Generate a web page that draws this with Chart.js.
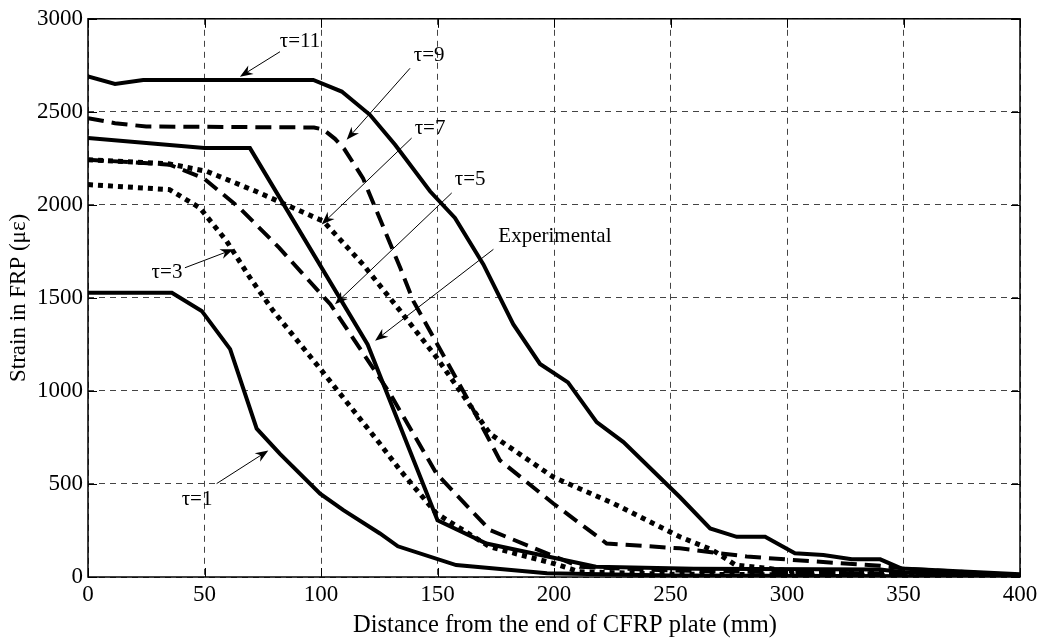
<!DOCTYPE html>
<html>
<head>
<meta charset="utf-8">
<script src="https://cdn.jsdelivr.net/npm/chart.js@4"></script>
<style>
  html, body { margin: 0; padding: 0; background: #fff; }
</style>
</head>
<body>
<canvas id="strainChart" width="1046" height="641"></canvas>
<script>
// data: distance (mm) / strain (micro-strain)
const tau11X = [0, 11.6, 23.7, 96.7, 108.9, 121, 131.8, 146.8, 157.5, 169.7, 182.5, 194, 206, 218.3, 229.8, 254, 267, 278.4, 290.6, 303.4, 315.6, 327.8, 340, 349, 400];
const tau11Y = [2690, 2650, 2671, 2671, 2609, 2484, 2323, 2073, 1930, 1680, 1359, 1145, 1046, 832, 725, 430, 261, 216, 216, 127, 118, 95, 95, 46, 15];

const tau9X = [0, 11.6, 25, 97, 101, 106, 110, 118, 134, 139.6, 162.5, 176.8, 199.7, 222.6, 254, 282.7, 310, 340, 350, 400];
const tau9Y = [2466, 2439, 2421, 2416, 2405, 2355, 2300, 2144, 1662, 1484, 966, 627, 395, 180, 154, 110, 85, 60, 45, 10];

const expX = [0, 50, 69.5, 120, 150, 171, 218, 260, 340, 350, 400];
const expY = [2360, 2305, 2305, 1250, 305, 180, 55, 45, 40, 25, 10];

const tau7X = [0, 35, 49.5, 65, 82, 104, 125, 129.6, 149.6, 172.5, 211, 250, 300, 400];
const tau7Y = [2243, 2216, 2144, 1984, 1770, 1466, 1073, 986, 555, 252, 55, 35, 25, 10];

const tau5X = [0, 35, 51, 72, 101, 118, 134, 149.6, 172.5, 199.7, 225.5, 254, 268, 278, 300, 350, 400];
const tau5Y = [2243, 2220, 2180, 2073, 1912, 1680, 1430, 1180, 770, 537, 395, 216, 145, 64, 35, 20, 8];

const tau3X = [0, 35, 48, 59.5, 69.5, 79.5, 99.6, 125.3, 134, 149.6, 172.5, 199.7, 211, 250, 400];
const tau3Y = [2109, 2082, 1984, 1805, 1609, 1430, 1120, 716, 573, 341, 162, 73, 28, 15, 5];

const tau1X = [0, 36, 48.8, 61, 72.4, 82.4, 99.6, 109.6, 125.3, 133, 158, 197, 250, 400];
const tau1Y = [1528, 1528, 1430, 1225, 797, 662, 448, 359, 234, 165, 64, 20, 8, 3];

const xTicks = [0, 50, 100, 150, 200, 250, 300, 350, 400];
const yTicks = [0, 500, 1000, 1500, 2000, 2500, 3000];

const xTitle = 'Distance from the end of CFRP plate (mm)';
const yTitle = 'Strain in FRP (με)';

// labels with arrows: text centre, arrow start, arrow tip (in data units)
const notes = [
    { text: 'τ=11', at: [91, 2877], from: [82.4, 2823], to: [65.2, 2689] },
    { text: 'τ=9', at: [146.4, 2802], from: [138.2, 2734], to: [111, 2350] },
    { text: 'τ=7', at: [146.8, 2411], from: [138.9, 2359], to: [100.3, 1895] },
    { text: 'τ=5', at: [164, 2137], from: [156.1, 2064], to: [106, 1466] },
    { text: 'Experimental', at: [200.4, 1832], from: [174, 1761], to: [123.2, 1270] },
    { text: 'τ=3', at: [33.9, 1639], from: [41.6, 1662], to: [62.4, 1761] },
    { text: 'τ=1', at: [46.8, 418], from: [55.2, 502], to: [77.4, 680] }
];

const SERIF = "'Liberation Serif', 'Times New Roman', serif";
const SOLID = [];
const DASHED = [16, 8];
const DOTTED = [5, 5];

function toPoints(xs, ys) {
    return xs.map((x, i) => ({ x: x, y: ys[i] }));
}

function series(label, xs, ys, dash) {
    return {
        label: label,
        data: toPoints(xs, ys),
        borderColor: '#000',
        borderWidth: dash === DOTTED ? 5 : 4,
        borderDash: dash,
        borderCapStyle: 'butt',
        borderJoinStyle: 'miter',
        pointRadius: 0,
        tension: 0,
        fill: false
    };
}

// box, inward ticks, x title and the arrow labels
const frameAndNotes = {
    id: 'frameAndNotes',
    afterDraw(chart) {
        const { ctx, chartArea: a, scales: { x, y } } = chart;
        ctx.save();
        ctx.strokeStyle = '#000';
        ctx.lineWidth = 1;
        ctx.setLineDash([]);
        ctx.beginPath();
        xTicks.forEach(v => {
            const px = Math.round(x.getPixelForValue(v)) + 0.5;
            ctx.moveTo(px, a.bottom); ctx.lineTo(px, a.bottom - 9);
            ctx.moveTo(px, a.top); ctx.lineTo(px, a.top + 9);
        });
        yTicks.forEach(v => {
            const py = Math.round(y.getPixelForValue(v)) + 0.5;
            ctx.moveTo(a.left, py); ctx.lineTo(a.left + 9, py);
            ctx.moveTo(a.right, py); ctx.lineTo(a.right - 9, py);
        });
        ctx.stroke();
        ctx.lineWidth = 1.5;
        ctx.strokeRect(a.left, a.top, a.right - a.left, a.bottom - a.top);

        ctx.fillStyle = '#000';
        ctx.textAlign = 'center';
        ctx.textBaseline = 'alphabetic';
        ctx.font = '24.5px ' + SERIF;
        ctx.fillText(xTitle, (a.left + a.right) / 2 + 11, a.bottom + 55);

        ctx.font = '21px ' + SERIF;
        ctx.textBaseline = 'middle';
        ctx.lineWidth = 1;
        notes.forEach(n => {
            ctx.fillText(n.text, x.getPixelForValue(n.at[0]), y.getPixelForValue(n.at[1]));
            const x0 = x.getPixelForValue(n.from[0]), y0 = y.getPixelForValue(n.from[1]);
            const x1 = x.getPixelForValue(n.to[0]), y1 = y.getPixelForValue(n.to[1]);
            const ang = Math.atan2(y1 - y0, x1 - x0);
            ctx.beginPath();
            ctx.moveTo(x0, y0);
            ctx.lineTo(x1 - 8 * Math.cos(ang), y1 - 8 * Math.sin(ang));
            ctx.stroke();
            // filled arrow head with a notch
            ctx.save();
            ctx.translate(x1, y1);
            ctx.rotate(ang);
            ctx.beginPath();
            ctx.moveTo(0, 0);
            ctx.lineTo(-13, -5);
            ctx.lineTo(-9, 0);
            ctx.lineTo(-13, 5);
            ctx.closePath();
            ctx.fill();
            ctx.restore();
        });
        ctx.restore();
    }
};

new Chart(document.getElementById('strainChart').getContext('2d'), {
    type: 'line',
    data: {
        datasets: [
            series('τ=11', tau11X, tau11Y, SOLID),
            series('τ=9', tau9X, tau9Y, DASHED),
            series('Experimental', expX, expY, SOLID),
            series('τ=7', tau7X, tau7Y, DASHED),
            series('τ=5', tau5X, tau5Y, DOTTED),
            series('τ=3', tau3X, tau3Y, DOTTED),
            series('τ=1', tau1X, tau1Y, SOLID)
        ]
    },
    options: {
        responsive: false,
        animation: false,
        layout: { padding: { top: 16, right: 26, left: 0, bottom: 0 } },
        plugins: {
            legend: { display: false },
            tooltip: { enabled: false }
        },
        scales: {
            x: {
                type: 'linear',
                min: 0,
                max: 400,
                afterFit: scale => { scale.height = 64; },
                afterBuildTicks: scale => { scale.ticks = xTicks.map(v => ({ value: v })); },
                ticks: { color: '#000', padding: 4, maxRotation: 0, font: { family: SERIF, size: 23 }, callback: v => String(v) },
                grid: { color: '#444', lineWidth: 1, drawTicks: false },
                border: { display: false, dash: [6, 5] },
                title: { display: false }
            },
            y: {
                min: 0,
                max: 3000,
                afterFit: scale => { scale.width = 88; },
                afterBuildTicks: scale => { scale.ticks = yTicks.map(v => ({ value: v })); },
                ticks: { color: '#000', padding: 5, font: { family: SERIF, size: 23 }, callback: v => String(v) },
                grid: { color: '#444', lineWidth: 1, drawTicks: false },
                border: { display: false, dash: [6, 5] },
                title: {
                    display: true,
                    text: yTitle,
                    color: '#000',
                    padding: { top: 5, bottom: 0 },
                    font: { family: SERIF, size: 23 }
                }
            }
        }
    },
    plugins: [frameAndNotes]
});
</script>
</body>
</html>
